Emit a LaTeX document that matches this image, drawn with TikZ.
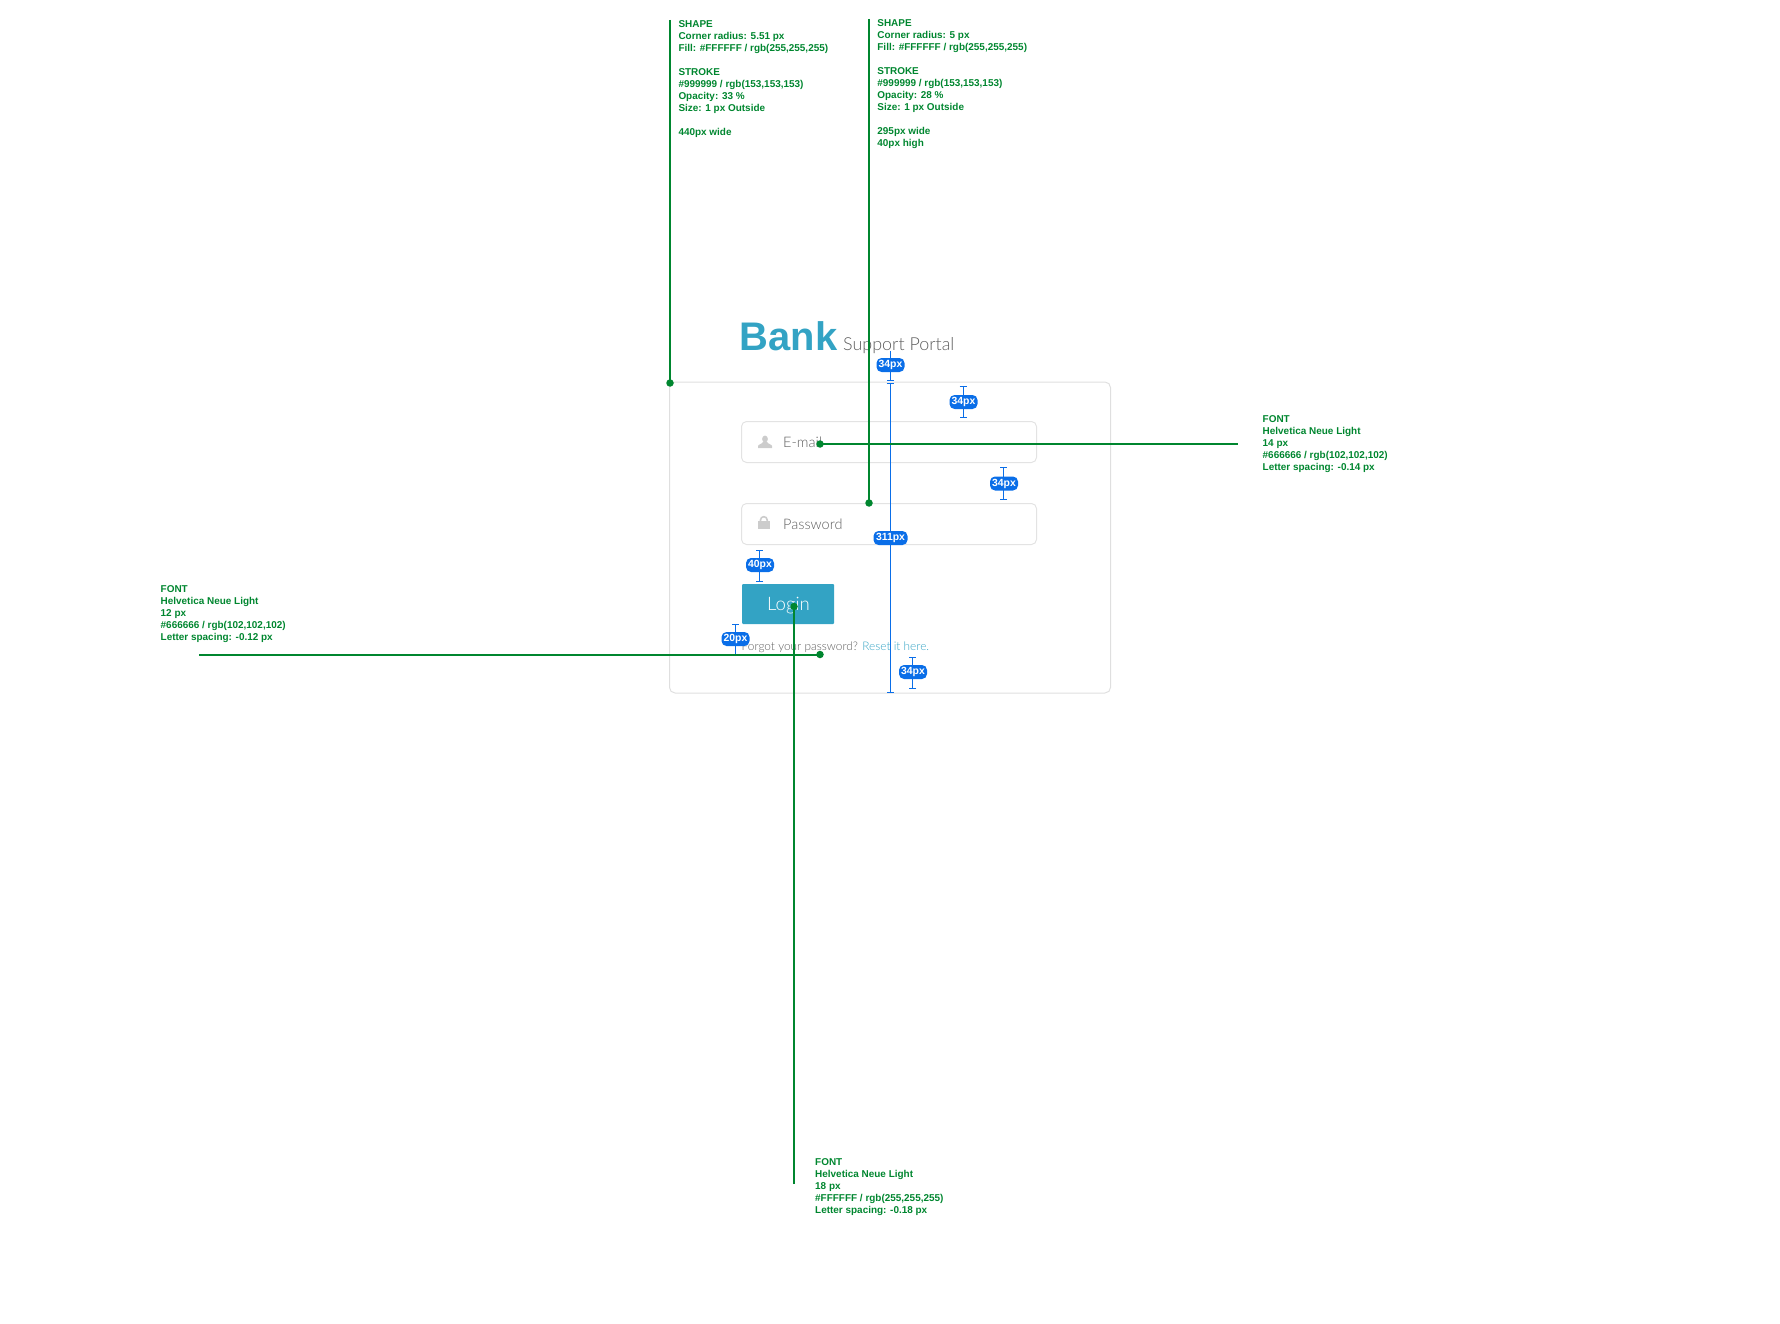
\documentclass[tikz,border=0pt]{standalone}
\usepackage{fontspec}
\setmainfont{Liberation Sans}
\newfontfamily\lightfont[UprightFont=* Light]{Lato}
\usetikzlibrary{arrows.meta,positioning}
\definecolor{cnote}{HTML}{00862F}
\definecolor{cmeasure}{HTML}{0A6EE8}
\definecolor{cbrand}{HTML}{33A3C4}
\definecolor{ctext}{HTML}{5E5E5E}
\definecolor{cicon}{HTML}{CCCCCC}
\definecolor{ccard}{HTML}{DFDFDF}
\definecolor{cfield}{HTML}{E3E3E3}

\begin{document}
\begin{tikzpicture}[x=1pt, y=-1pt,
    note/.style={inner sep=0pt, anchor=north west, align=left, text=cnote, font=\fontsize{9.95}{12}\selectfont\bfseries},
    lead/.style={cnote, line width=2pt},
    dot/.style={circle, fill=cnote, inner sep=0pt, minimum size=7.5pt},
    card/.style={draw=ccard, line width=1pt, rounded corners=5.5pt, minimum width=441pt, minimum height=311pt},
    field/.style={draw=cfield, line width=1pt, rounded corners=5pt, minimum width=295pt, minimum height=41pt},
    ui/.style={inner sep=0pt, anchor=base west, text=ctext},
    gap/.style={{Bar[width=7pt,length=1pt]}-{Bar[width=7pt,length=1pt]}, cmeasure, line width=1pt},
    gaplab/.style={fill=cmeasure, text=white, rounded corners=5pt, inner sep=0pt, minimum height=14pt, minimum width=28pt, font=\fontsize{10.4}{10}\selectfont\bfseries}]
  \useasboundingbox (0,0) rectangle (1780,1324);

  % the form
  \node[ui, text=cbrand, font=\fontsize{39.9}{40}\selectfont\bfseries] (bank) at (739.5,350) {Bank};
  \node[ui, font=\lightfont\fontsize{17.9}{18}\selectfont] (portal) at (843,350) {Support Portal};
  \node[card] (cardbox) at (890,537.5) {};
  \node[field] (mailbox) at (889,442) {};
  \node[field] (passbox) at (889,524) {};
  \node[fill=cbrand, rounded corners=1pt, minimum width=92pt, minimum height=40pt, inner sep=0pt] (loginbtn) at (788,604) {};
  \node[ui, font=\lightfont\fontsize{14.5}{14}\selectfont] (mailtxt) at (783,447) {E-mail};
  \node[ui, font=\lightfont\fontsize{14.5}{14}\selectfont] (passtxt) at (783,529) {Password};
  \node[ui, text=white, font=\lightfont\fontsize{18.6}{18}\selectfont] (logintxt) at (767,610) {Login};
  \node[ui, font=\lightfont\fontsize{11.85}{12}\selectfont] (forgot) at (741.5,650.5) {Forgot your password? \textcolor{cbrand}{Reset it here.}};

  % icons
  \fill[cicon] (765,439) ellipse (2.9 and 3.4);
  \fill[cicon] (758,448) -- (758,446) .. controls (758,444.2) and (762.5,444.2) .. (763.2,441.5) -- (766.8,441.5) .. controls (767.5,444.2) and (772,444.2) .. (772,446) -- (772,448) -- cycle;
  \fill[cicon] (758,521) rectangle (769.7,529.3);
  \draw[cicon, line width=1.6pt] (760.5,521) -- (760.5,520) arc[start angle=180, end angle=360, radius=3.35] -- (767.2,521);

  % measures
  \coordinate (tA) at (890,350);
  \coordinate (tB) at (890,381);
  \coordinate (tC) at (890,383);
  \coordinate (tD) at (890,693);
  \coordinate (uA) at (963,386);
  \coordinate (uB) at (963,418);
  \coordinate (vA) at (1003.5,467);
  \coordinate (vB) at (1003.5,499.5);
  \coordinate (wA) at (759.5,549.5);
  \coordinate (wB) at (759.5,581.5);
  \coordinate (xA) at (735.5,623.5);
  \coordinate (xB) at (735.5,655);
  \coordinate (yA) at (912.5,656.5);
  \coordinate (yB) at (912.5,688.5);
  \draw[gap, {Bar[width=0pt,length=0pt]}-{Bar[width=7pt,length=1pt]}] (tA) -- (tB);
  \draw[gap] (tC) -- (tD);
  \draw[gap] (uA) -- (uB);
  \draw[gap] (vA) -- (vB);
  \draw[gap] (wA) -- (wB);
  \draw[gap] (xA) -- (xB);
  \draw[gap] (yA) -- (yB);
  \node[gaplab] (lt) at (890.5,365) {34px};
  \node[gaplab, minimum width=34pt] (lr) at (890.5,538) {311px};
  \node[gaplab] (lu) at (963.5,402) {34px};
  \node[gaplab] (lv) at (1004,483.5) {34px};
  \node[gaplab] (lw) at (760,565) {40px};
  \node[gaplab] (lx) at (735.5,639) {20px};
  \node[gaplab] (ly) at (913,672) {34px};

  % callouts
  \node[dot] (dcard) at (670,383) {};
  \node[dot] (dpass) at (869,503) {};
  \node[dot] (dmail) at (820,444) {};
  \node[dot] (dforgot) at (820,654.5) {};
  \node[dot] (dlogin) at (794,606.5) {};
  \coordinate (ecard) at (670,20);
  \coordinate (epass) at (869,19);
  \coordinate (email) at (1237.5,444);
  \coordinate (eforgot) at (199,654.5);
  \coordinate (elogin) at (794,1184);
  \draw[lead] (ecard) -- (dcard.center);
  \draw[lead] (epass) -- (dpass.center);
  \draw[lead] (email) -- (dmail.center);
  \draw[lead] (eforgot) -- (dforgot.center);
  \draw[lead] (elogin) -- (dlogin.center);

  \node[note] (ncard) at (678.3,20.2) {SHAPE\\Corner radius: 5.51 px\\Fill: \#FFFFFF / rgb(255,255,255)\\[12pt]STROKE\\\#999999 / rgb(153,153,153)\\Opacity: 33 \%\\Size: 1 px Outside\\[12pt]440px wide};
  \node[note] (npass) at (877.2,19.2) {SHAPE\\Corner radius: 5 px\\Fill: \#FFFFFF / rgb(255,255,255)\\[12pt]STROKE\\\#999999 / rgb(153,153,153)\\Opacity: 28 \%\\Size: 1 px Outside\\[12pt]295px wide\\40px high};
  \node[note] (nmail) at (1262.5,415.2) {FONT\\Helvetica Neue Light\\14 px\\\#666666 / rgb(102,102,102)\\Letter spacing: -0.14 px};
  \node[note] (nforgot) at (160.5,585.2) {FONT\\Helvetica Neue Light\\12 px\\\#666666 / rgb(102,102,102)\\Letter spacing: -0.12 px};
  \node[note] (nlogin) at (815,1158.2) {FONT\\Helvetica Neue Light\\18 px\\\#FFFFFF / rgb(255,255,255)\\Letter spacing: -0.18 px};
\end{tikzpicture}
\end{document}
